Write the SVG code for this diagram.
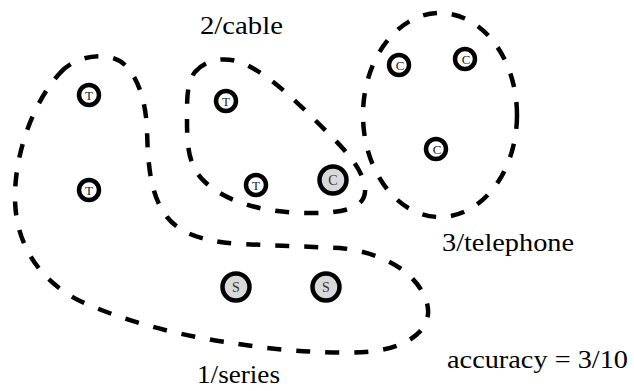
<svg xmlns="http://www.w3.org/2000/svg" width="634" height="391" viewBox="0 0 634 391">
<style>
.hull{fill:none;stroke:#000;stroke-width:4.5;stroke-dasharray:14 15;}
.n{fill:#fff;stroke:#000;stroke-width:4.5;}
.g{fill:#d9d9d9;stroke:#000;stroke-width:4.5;}
.nt{font-family:"Liberation Serif","Times New Roman",serif;font-size:13px;text-anchor:middle;fill:#222;}
.gt{font-family:"Liberation Serif","Times New Roman",serif;font-size:14px;text-anchor:middle;fill:#333;}
.lbl{font-family:"Liberation Serif","Times New Roman",serif;font-size:25px;fill:#000;}
</style>
<rect width="634" height="391" fill="#fff"/>
<g id="connectors">
<path id="hull-series" class="hull" d="M 60,73 C 75,55 110,50 125,65 C 140,80 146,105 147,130 C 148,165 150,195 167,217 C 180,233 200,241 240,244 L 340,248 C 380,252 415,270 426,300 C 435,325 415,345 375,351 C 340,355 280,351 232,343 C 180,336 120,320 78,300 C 40,280 15,245 15,197 C 15,150 35,100 60,73 Z"/>
<path id="hull-cable" class="hull" d="M 195,72 C 205,60 225,55 245,64 C 270,76 295,100 320,125 C 340,145 362,165 365,188 C 367,210 340,213 310,213 C 270,213 230,205 205,182 C 186,165 187,140 187,110 C 187,90 189,80 195,72 Z"/>
<ellipse id="hull-telephone" class="hull" cx="440" cy="115" rx="77" ry="102"/>
</g>
<g id="t1"><circle class="n" cx="89" cy="95" r="10"/><text class="nt" x="89" y="100">T</text></g>
<g id="t2"><circle class="n" cx="89" cy="190" r="10"/><text class="nt" x="89" y="195">T</text></g>
<g id="t3"><circle class="n" cx="226" cy="101" r="10"/><text class="nt" x="226" y="106">T</text></g>
<g id="t4"><circle class="n" cx="256" cy="185" r="10"/><text class="nt" x="256" y="190">T</text></g>
<g id="c-gray"><circle class="g" cx="333" cy="180" r="13.5"/><text class="gt" x="333" y="185">C</text></g>
<g id="c1"><circle class="n" cx="399" cy="65" r="10"/><text class="nt" x="400" y="70">C</text></g>
<g id="c2"><circle class="n" cx="465" cy="59" r="10"/><text class="nt" x="466" y="64">C</text></g>
<g id="c3"><circle class="n" cx="436" cy="149" r="10"/><text class="nt" x="437" y="154">C</text></g>
<g id="s1"><circle class="g" cx="236" cy="287" r="13.5"/><text class="gt" x="236" y="292">S</text></g>
<g id="s2"><circle class="g" cx="326" cy="287" r="13.5"/><text class="gt" x="326" y="292">S</text></g>
<text class="lbl" x="200" y="34" textLength="83" lengthAdjust="spacingAndGlyphs">2/cable</text>
<text class="lbl" x="442" y="251" textLength="132" lengthAdjust="spacingAndGlyphs">3/telephone</text>
<text class="lbl" x="197" y="383" textLength="83" lengthAdjust="spacingAndGlyphs">1/series</text>
<text class="lbl" x="447" y="368" textLength="181" lengthAdjust="spacingAndGlyphs">accuracy = 3/10</text>
</svg>
